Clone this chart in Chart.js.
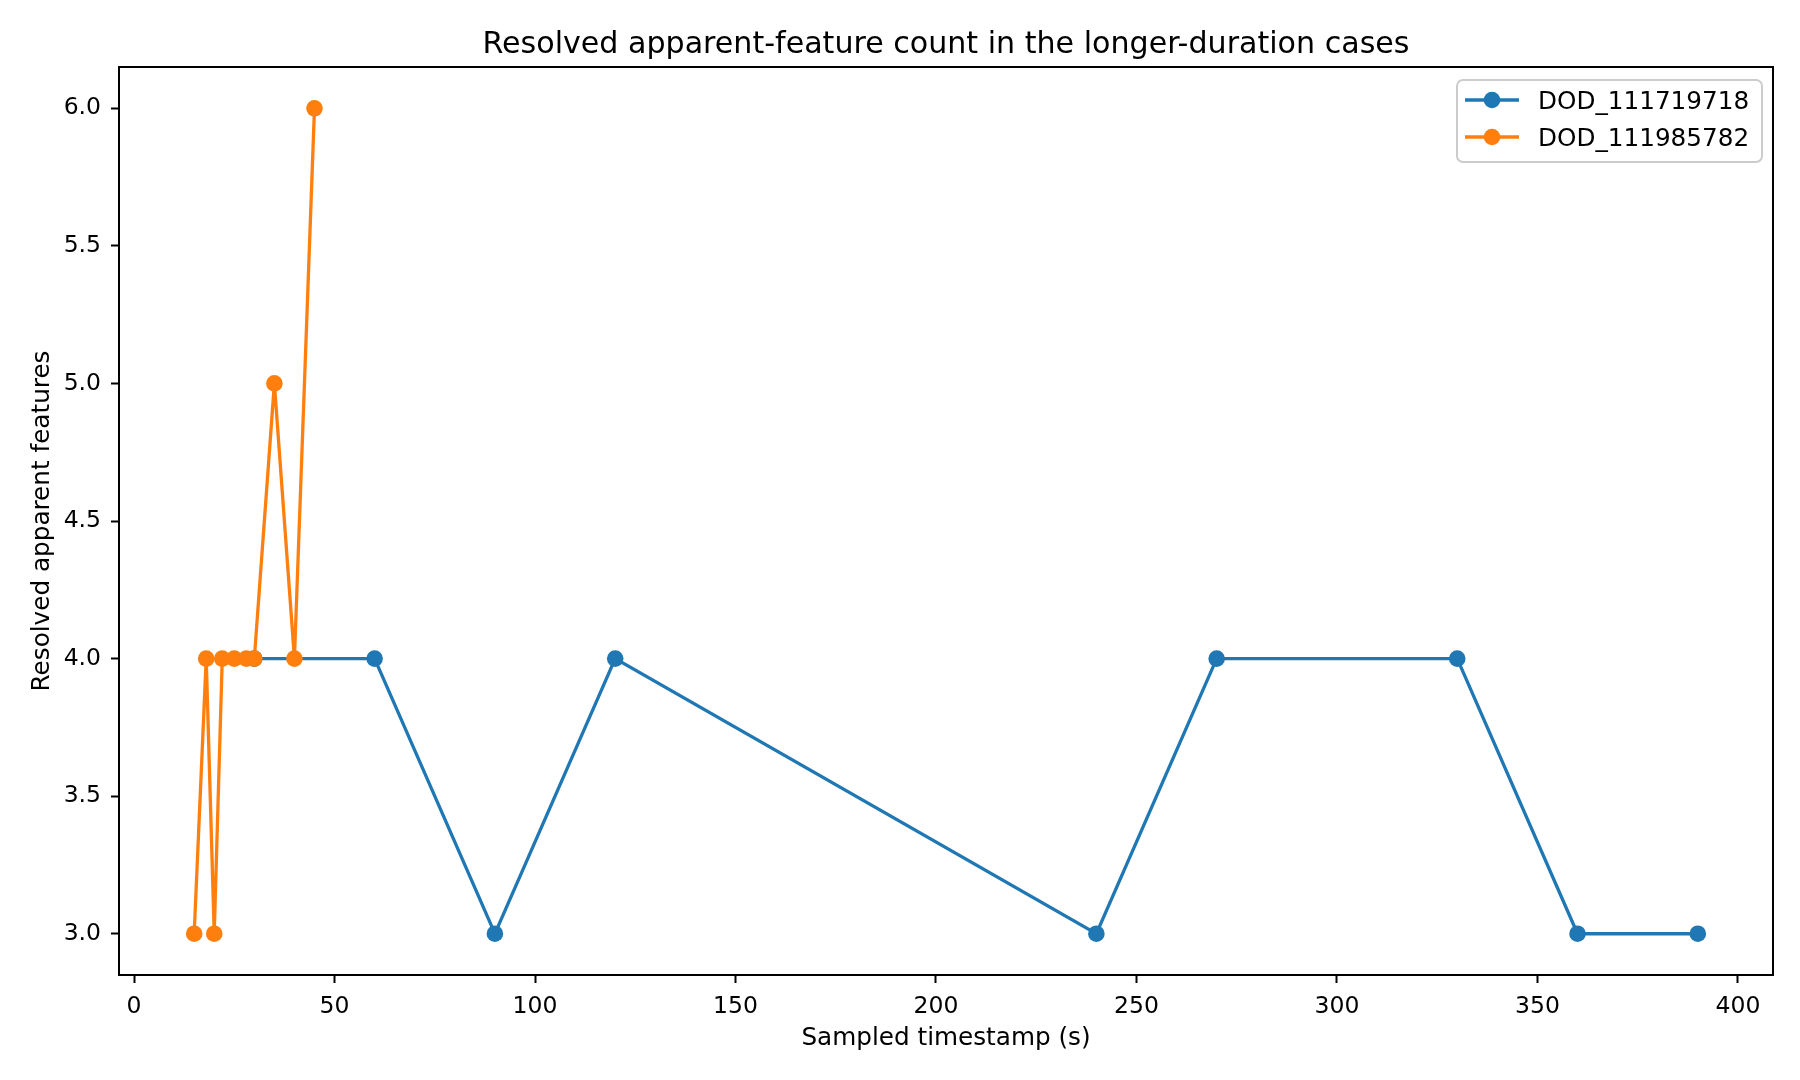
<!DOCTYPE html>
<html>
<head>
<meta charset="utf-8">
<script src="https://cdn.jsdelivr.net/npm/chart.js@4/dist/chart.umd.min.js"></script>
<style>
html,body{margin:0;padding:0;background:#fff;}
canvas{display:block;}
</style>
</head>
<body>
<canvas id="c" width="1800" height="1080"></canvas>
<script>
const titleText = "Resolved apparent-feature count in the longer-duration cases";
const xLabel = "Sampled timestamp (s)";
const yLabel = "Resolved apparent features";
const seriesNames = ["DOD_111719718", "DOD_111985782"];
const blueX = [30, 60, 90, 120, 240, 270, 330, 360, 390];
const blueY = [4, 4, 3, 4, 3, 4, 4, 3, 3];
const orangeX = [15, 18, 20, 22, 25, 28, 30, 35, 40, 45];
const orangeY = [3, 4, 3, 4, 4, 4, 4, 5, 4, 6];
const xTicks = [0, 50, 100, 150, 200, 250, 300, 350, 400];
const yTicks = [3.0, 3.5, 4.0, 4.5, 5.0, 5.5, 6.0];

const colors = ["#1f77b4", "#ff7f0e"];
const FONT = "'DejaVu Sans', sans-serif";

function pts(xs, ys){ return xs.map((x,i)=>({x:x, y:ys[i]})); }

const decor = {
  id: 'decor',
  afterDraw(chart){
    const ctx = chart.ctx, a = chart.chartArea;
    ctx.save();
    // frame
    ctx.strokeStyle = '#000';
    ctx.lineWidth = 2;
    ctx.strokeRect(a.left, a.top, a.right - a.left, a.bottom - a.top);
    // title
    ctx.fillStyle = '#000';
    ctx.textAlign = 'center';
    ctx.textBaseline = 'alphabetic';
    ctx.font = "30.1px " + FONT;
    ctx.fillText(titleText, (a.left + a.right)/2, 52.5);
    // axis labels
    ctx.font = "24.7px " + FONT;
    ctx.fillText(xLabel, (a.left + a.right)/2, 1045);
    ctx.save();
    ctx.translate(49, (a.top + a.bottom)/2);
    ctx.rotate(-Math.PI/2);
    ctx.fillText(yLabel, 0, 0);
    ctx.restore();
    // legend
    const lx = 1457, ly = 80, lw = 305, lh = 82, r = 6;
    ctx.beginPath();
    ctx.moveTo(lx + r, ly);
    ctx.arcTo(lx + lw, ly, lx + lw, ly + lh, r);
    ctx.arcTo(lx + lw, ly + lh, lx, ly + lh, r);
    ctx.arcTo(lx, ly + lh, lx, ly, r);
    ctx.arcTo(lx, ly, lx + lw, ly, r);
    ctx.closePath();
    ctx.fillStyle = 'rgba(255,255,255,0.8)';
    ctx.fill();
    ctx.strokeStyle = '#cccccc';
    ctx.lineWidth = 2;
    ctx.stroke();
    const rows = [100, 137];
    chart.data.datasets.forEach((ds, i) => {
      const y = rows[i];
      ctx.strokeStyle = ds.borderColor;
      ctx.lineWidth = 3.3;
      ctx.beginPath();
      ctx.moveTo(1465, y);
      ctx.lineTo(1519, y);
      ctx.stroke();
      ctx.fillStyle = ds.backgroundColor;
      ctx.beginPath();
      ctx.arc(1492, y, 8.3, 0, Math.PI*2);
      ctx.fill();
      ctx.fillStyle = '#000';
      ctx.textAlign = 'left';
      ctx.textBaseline = 'alphabetic';
      ctx.font = "24.7px " + FONT;
      ctx.fillText(ds.label, 1538, y + 9);
    });
    ctx.restore();
  }
};

new Chart(document.getElementById('c'), {
  type: 'line',
  data: {
    datasets: [
      { label: seriesNames[0], data: pts(blueX, blueY), borderColor: colors[0], backgroundColor: colors[0],
        borderWidth: 3.3, pointRadius: 8.3, pointHoverRadius: 8.3, pointBorderWidth: 0, tension: 0, order: 1 },
      { label: seriesNames[1], data: pts(orangeX, orangeY), borderColor: colors[1], backgroundColor: colors[1],
        borderWidth: 3.3, pointRadius: 8.3, pointHoverRadius: 8.3, pointBorderWidth: 0, tension: 0, order: 0 }
    ]
  },
  options: {
    responsive: false,
    animation: false,
    devicePixelRatio: 1,
    layout: { padding: { left: 0, right: 27, top: 67, bottom: 0 } },
    plugins: { legend: { display: false }, title: { display: false }, tooltip: { enabled: false } },
    scales: {
      x: {
        type: 'linear', min: -3.75, max: 408.75,
        afterBuildTicks(s){ s.ticks = xTicks.map(v => ({value: v})); },
        afterFit(s){ s.height = 105; },
        grid: { drawOnChartArea: false, drawTicks: true, tickLength: 8, tickColor: '#000', tickWidth: 2 },
        border: { display: true, color: '#000', width: 2 },
        ticks: { color: '#000', font: { family: FONT, size: 23.5 }, padding: 10, maxRotation: 0, autoSkip: false,
          callback: v => String(v) }
      },
      y: {
        type: 'linear', min: 2.85, max: 6.15,
        afterBuildTicks(s){ s.ticks = yTicks.map(v => ({value: v})); },
        afterFit(s){ s.width = 119; },
        grid: { drawOnChartArea: false, drawTicks: true, tickLength: 8, tickColor: '#000', tickWidth: 2 },
        border: { display: true, color: '#000', width: 2 },
        ticks: { color: '#000', font: { family: FONT, size: 23.5 }, padding: 10, autoSkip: false,
          callback: v => Number(v).toFixed(1) }
      }
    }
  },
  plugins: [decor]
});
</script>
</body>
</html>
